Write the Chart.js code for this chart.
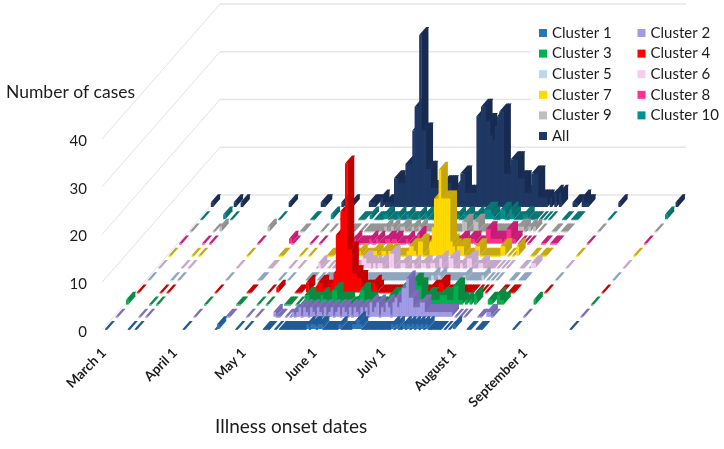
<!DOCTYPE html>
<html>
<head>
<meta charset="utf-8">
<title>Illness onset dates</title>
<script src="https://cdn.jsdelivr.net/npm/chart.js@4"></script>
<style>
  html, body { margin: 0; padding: 0; background: #fff; }
  canvas { display: block; }
</style>
</head>
<body>
<canvas id="chart" width="724" height="449"></canvas>
<script>
// days since March 1 that have at least one case
const days = [0,10,13,34,48,49,57,61,69,70,71,74,
  76,77,78,79,80,81,82,83,84,85,
  86,87,88,89,90,91,92,93,94,95,
  96,97,98,99,100,101,102,103,104,105,
  106,107,108,109,110,111,112,113,114,115,
  116,117,118,119,120,121,122,123,124,125,
  126,127,128,129,130,131,132,133,134,135,
  136,137,138,139,140,141,142,143,144,145,
  146,
  148,150,152,158,159,162,163,164,178,203];

const monthDays = [0,31,61,92,122,153,184];
const monthLabels = ["March 1","April 1","May 1","June 1","July 1","August 1","September 1"];
const yTicks = [0,10,20,30,40];

const cluster1 = [0,0,0,0,0,1,0,0,0,0,0,0,
  0,0,0,0,0,0,0,0,0,0,
  0,0,1,0,1,1,0,1,1,0,
  0,0,0,0,0,0,1,0,0,0,
  0,0,1,1,2,1,0,0,0,0,
  0,0,0,0,0,0,0,0,0,1,
  0,1,0,0,1,0,1,0,1,0,
  1,0,1,0,1,0,0,0,0,0,
  0,
  0,0,1,0,0,0,0,0,0,0];
const cluster2 = [0,0,0,0,0,0,0,0,1,0,0,0,
  0,1,0,1,2,0,2,1,0,2,
  1,0,2,1,0,2,0,1,2,0,
  1,2,0,2,1,0,2,0,2,1,
  0,2,1,2,0,3,1,2,3,0,
  2,1,3,2,0,3,4,2,3,6,
  6,8,4,4,2,2,2,3,3,1,
  1,1,1,1,1,1,1,1,1,1,
  1,
  0,0,0,0,0,1,1,0,0,0];
const cluster3 = [1,0,0,0,0,0,0,0,0,0,0,0,
  0,0,2,2,1,1,1,1,1,2,
  1,1,1,1,3,3,1,1,1,1,
  1,0,0,0,1,1,3,3,1,1,
  1,0,0,0,0,0,0,0,1,2,
  2,1,1,3,3,1,0,3,1,5,
  5,4,4,1,1,2,2,1,1,1,
  1,2,2,2,1,1,1,4,4,1,
  1,
  1,1,2,1,1,2,1,1,1,0];
const cluster4 = [0,0,0,0,0,0,0,1,0,0,0,2,
  0,0,1,2,2,1,1,1,1,2,
  4,12,12,17,17,27,9,9,4,4,
  3,3,1,1,1,1,0,2,1,0,
  0,0,0,0,0,0,0,0,0,0,
  0,1,1,0,0,0,1,0,0,0,
  0,0,1,1,0,0,2,2,0,0,
  0,0,0,0,0,0,0,0,0,0,
  0,
  0,0,0,0,0,0,0,0,0,0];
const cluster5 = [0,0,0,0,0,0,0,0,0,0,0,0,
  0,0,0,0,0,0,0,0,0,0,
  0,0,0,0,0,0,0,0,0,0,
  0,0,0,0,0,0,0,0,0,0,
  0,0,0,0,0,0,0,0,0,0,
  0,0,0,0,0,0,0,0,1,0,
  0,1,0,0,0,0,0,0,0,0,
  0,0,1,0,0,0,0,0,0,0,
  1,
  0,0,0,0,0,0,0,0,0,0];
const cluster6 = [0,0,0,0,0,0,0,0,0,1,0,0,
  0,0,0,0,0,0,0,0,0,0,
  0,0,0,2,2,1,1,0,1,0,
  1,1,0,0,0,3,3,0,0,0,
  1,1,0,0,0,1,0,0,0,1,
  1,0,0,1,1,0,0,2,0,0,
  0,2,2,0,0,0,1,0,0,2,
  2,0,0,0,1,1,0,0,0,0,
  0,
  0,0,0,0,0,0,1,1,0,0];
const cluster7 = [0,0,0,0,0,0,0,0,0,0,0,0,
  0,0,0,0,0,0,0,1,0,0,
  0,0,0,1,1,0,0,1,1,0,
  1,1,0,0,0,0,0,0,1,2,
  2,1,0,3,3,0,0,0,3,6,
  12,12,18,12,12,12,12,3,2,0,
  2,2,2,0,0,0,0,0,2,2,
  0,0,0,0,0,0,0,0,0,2,
  2,
  0,0,2,0,0,0,0,0,0,0];
const cluster8 = [0,0,0,0,1,0,0,0,1,0,0,0,
  1,0,0,0,0,0,0,1,0,0,
  1,0,0,0,1,1,0,1,1,0,
  0,0,0,1,0,0,0,1,2,0,
  0,0,0,0,0,0,0,0,0,0,
  0,0,0,0,0,0,1,1,0,0,
  1,1,1,0,0,0,0,0,3,3,
  1,1,1,1,1,0,1,3,3,1,
  1,
  0,0,0,0,0,0,0,0,0,0];
const cluster9 = [0,0,1,1,0,0,0,0,0,0,0,0,
  0,0,0,0,0,0,0,0,0,1,
  0,0,1,0,0,0,1,1,0,0,
  0,1,0,0,1,0,0,0,0,0,
  0,0,0,0,0,0,0,0,0,0,
  0,0,0,2,2,0,0,0,2,2,
  0,0,0,0,0,0,0,0,0,0,
  0,0,0,0,0,0,0,1,1,1,
  0,
  1,1,0,0,0,0,0,0,0,0];
const cluster10 = [0,1,0,0,0,0,1,0,0,0,0,1,
  0,0,0,0,1,1,0,0,0,0,
  1,0,0,0,1,0,0,0,0,1,
  0,0,1,0,0,0,0,0,0,0,
  0,0,0,0,0,0,1,0,0,1,
  1,0,0,0,1,0,1,1,2,2,
  2,1,0,0,0,2,2,0,0,2,
  1,0,0,0,0,1,1,0,0,0,
  0,
  0,0,0,0,0,0,0,0,0,1];
const allCases = [1,1,1,1,1,1,1,1,1,1,1,2,
  1,1,1,1,6,6,5,5,5,9,
  9,9,16,21,21,36,16,16,8,8,
  4,4,4,4,4,5,5,5,5,3,
  3,3,5,7,7,3,3,3,3,3,
  19,19,21,21,18,18,15,14,17,19,
  20,20,7,7,7,10,10,10,6,6,
  6,3,3,3,7,7,7,2,2,2,
  2,
  2,3,3,1,1,2,1,1,1,1];

const seriesNames = ["Cluster 1","Cluster 2","Cluster 3","Cluster 4","Cluster 5","Cluster 6","Cluster 7","Cluster 8","Cluster 9","Cluster 10","All"];
const seriesValues = [cluster1,cluster2,cluster3,cluster4,cluster5,cluster6,cluster7,cluster8,cluster9,cluster10,allCases];
const frontColors = ["#2e75b6","#a29be6","#00b050","#ff0000","#bdd7ee","#f6cdf0","#ffd900","#ff2e93","#bfbfbf","#009090","#1f3864"];
const topColors = ["#1f5a96","#7b6fb8","#0c8a42","#c80000","#8fa5bd","#c5a8c8","#c8aa10","#c81f78","#959595","#0a7575","#1a2d55"];
const sideColors = ["#22609e","#7568b0","#0a8a40","#c00000","#93a9c0","#c4a6c6","#c4a60c","#c41c74","#8f8f8f","#086c6c","#172a4f"];

// oblique projection: each row moves up and right, each bar has a depth
const rowDx = 10.6, rowDy = 12.2;
const barDx = 7, barDy = 8;
const wallDx = 118, wallDy = 135;

const ink = "#1c1c1c";
const fontName = "Lato, sans-serif";

function parallelogram(ctx, x1, y1, x2, y2, dx, dy, color) {
  ctx.fillStyle = color;
  ctx.beginPath();
  ctx.moveTo(x1, y1);
  ctx.lineTo(x2, y2);
  ctx.lineTo(x2 + dx, y2 + dy);
  ctx.lineTo(x1 + dx, y1 + dy);
  ctx.closePath();
  ctx.fill();
}

const wallPlugin = {
  id: "wall",
  beforeDatasetsDraw(chart) {
    const ctx = chart.ctx;
    const y = chart.scales.y;
    const left = chart.chartArea.left - 4;
    ctx.save();
    yTicks.forEach(t => {
      const py = y.getPixelForValue(t) + 1;
      ctx.strokeStyle = "#e2e2e2";
      ctx.lineWidth = 1;
      ctx.beginPath();
      ctx.moveTo(left, py);
      ctx.lineTo(left + wallDx, py - wallDy);
      ctx.stroke();
      ctx.lineWidth = 1.4;
      ctx.strokeStyle = "#e6e6e6";
      ctx.beginPath();
      ctx.moveTo(left + wallDx, py - wallDy);
      ctx.lineTo(686, py - wallDy);
      ctx.stroke();
    });
    ctx.restore();

    // rows from back to front, bars from left to right
    for (let i = seriesValues.length - 1; i >= 0; i--) {
      const meta = chart.getDatasetMeta(i);
      const sx = i * rowDx, sy = -i * rowDy;
      meta.data.forEach(bar => {
        const p = bar.getProps(["x", "y", "base", "width"], true);
        const x0 = p.x - p.width / 2 + sx;
        const x1 = p.x + p.width / 2 + sx;
        const top = p.y + sy;
        const base = p.base + sy;
        if (base - top > 0.5) {
          parallelogram(ctx, x1, top, x1, base, barDx, -barDy, sideColors[i]);
        }
        // small overlap so neighbouring slanted faces leave no seam
        parallelogram(ctx, x0, top, x1 + 0.8, top, barDx, -barDy, topColors[i]);
        ctx.fillStyle = frontColors[i];
        ctx.fillRect(x0, top, x1 - x0 + 0.3, Math.max(base - top, 1));
      });
    }
    return false;
  },
  afterDraw(chart) {
    const ctx = chart.ctx;
    ctx.save();
    ctx.fillStyle = ink;
    ctx.textBaseline = "middle";
    ctx.textAlign = "left";
    ctx.font = "17.5px " + fontName;
    ctx.fillText("Number of cases", 6, 92);
    ctx.font = "19px " + fontName;
    ctx.fillText("Illness onset dates", 215, 427);

    // legend block hides the wall lines behind it
    ctx.fillStyle = "#fff";
    ctx.fillRect(531, 10, 193, 135);
    ctx.font = "15px " + fontName;
    seriesNames.forEach((name, i) => {
      const col = i % 2, row = Math.floor(i / 2);
      const lx = 539 + col * 98.5;
      const ly = 33 + row * 20.6;
      ctx.fillStyle = frontColors[i];
      ctx.fillRect(lx, ly - 4, 8, 8);
      ctx.fillStyle = ink;
      ctx.fillText(name, lx + 13, ly);
    });
    ctx.restore();
  }
};

new Chart(document.getElementById("chart"), {
  type: "bar",
  data: {
    datasets: seriesValues.map((values, i) => ({
      label: seriesNames[i],
      data: values.map((v, k) => ({ x: days[k], y: v })),
      backgroundColor: frontColors[i],
      categoryPercentage: 1,
      barPercentage: 1,
      grouped: false
    }))
  },
  options: {
    responsive: false,
    animation: false,
    layout: { padding: { left: 0, right: 151, top: 138, bottom: 0 } },
    plugins: { legend: { display: false }, tooltip: { enabled: false } },
    scales: {
      x: {
        type: "linear",
        offset: false,
        min: 0,
        max: 204,
        grid: { display: false, drawTicks: false },
        border: { display: false },
        afterBuildTicks: s => { s.ticks = monthDays.map(v => ({ value: v })); },
        afterFit: s => { s.height = 120; },
        ticks: {
          autoSkip: false,
          minRotation: 45,
          maxRotation: 45,
          padding: 16,
          labelOffset: -2,
          color: ink,
          font: { family: fontName, size: 13.5, weight: "bold" },
          callback: v => monthLabels[monthDays.indexOf(v)]
        }
      },
      y: {
        min: 0,
        max: 40,
        grid: { display: false, drawTicks: false },
        border: { display: false },
        afterFit: s => { s.width = 106; },
        afterBuildTicks: s => { s.ticks = yTicks.map(v => ({ value: v })); },
        ticks: {
          padding: 19,
          labelOffset: 3,
          color: ink,
          font: { family: fontName, size: 15 }
        }
      }
    }
  },
  plugins: [wallPlugin]
});
</script>
</body>
</html>
